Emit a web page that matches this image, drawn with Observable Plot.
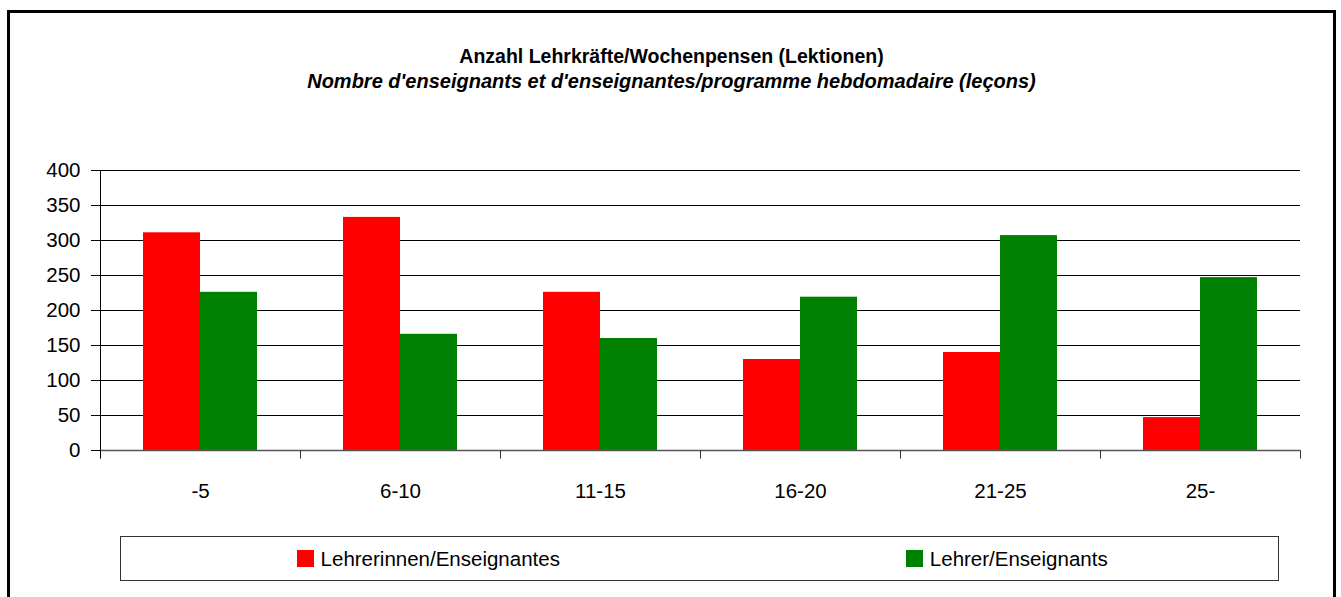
<!DOCTYPE html>
<html>
<head>
<meta charset="utf-8">
<script src="https://cdn.jsdelivr.net/npm/d3@7"></script>
<script src="https://cdn.jsdelivr.net/npm/@observablehq/plot@0.6"></script>
<style>
  html, body { margin: 0; padding: 0; background: #fff; overflow: hidden; }
  #page { position: relative; width: 1341px; height: 597px; overflow: hidden; background: #fff; }
  #frame { position: absolute; left: 7px; top: 10px; width: 1329px; height: 640px; border: 3px solid #000; box-sizing: border-box; }
  .ttl { position: absolute; left: 7px; width: 1329px; text-align: center; font-family: "Liberation Sans", Arial, sans-serif; font-weight: bold; font-size: 19.5px; line-height: 19.5px; color: #000; white-space: nowrap; }
  #title { top: 46.5px; }
  #subtitle { top: 71px; font-style: italic; font-size: 20px; line-height: 20px; }
  #chart { position: absolute; left: 0; top: 150px; }
  #legend { position: absolute; left: 120px; top: 536px; width: 1159px; height: 45px; border: 1px solid #333; box-sizing: border-box; display: grid; grid-template-columns: 1fr 1fr; }
  .item { display: flex; align-items: center; justify-content: center; padding-left: 36px; font-family: "Liberation Sans", Arial, sans-serif; font-size: 20.5px; color: #000; white-space: nowrap; }
  .sw { width: 17px; height: 17px; margin-right: 7px; }
</style>
</head>
<body>
<div id="page">
  <div id="frame"></div>
  <div id="title" class="ttl"></div>
  <div id="subtitle" class="ttl"></div>
  <div id="chart"></div>
  <div id="legend"></div>
</div>
<script>
const titleText = "Anzahl Lehrkräfte/Wochenpensen (Lektionen)";
const subtitleText = "Nombre d'enseignants et d'enseignantes/programme hebdomadaire (leçons)";
const categories = ["-5", "6-10", "11-15", "16-20", "21-25", "25-"];
const series = ["Lehrerinnen/Enseignantes", "Lehrer/Enseignants"];
const women = [311, 333, 226, 130, 140, 47];
const men = [226, 166, 160, 219, 307, 247];
const yTicks = [0, 50, 100, 150, 200, 250, 300, 350, 400];
const colors = ["#ff0000", "#008000"];

document.getElementById("title").textContent = titleText;
document.getElementById("subtitle").textContent = subtitleText;

const data = categories.flatMap((c, i) => [
  {cat: c, series: series[0], value: women[i]},
  {cat: c, series: series[1], value: men[i]}
]);

const plot = Plot.plot({
  width: 1341,
  height: 360,
  marginLeft: 100,
  marginRight: 41,
  marginTop: 20,
  marginBottom: 60,
  style: {fontFamily: "'Liberation Sans', Arial, sans-serif", fontSize: "20.5px", color: "#000", background: "transparent", overflow: "visible"},
  fx: {domain: categories, padding: 0, label: null, tickSize: 0, tickPadding: 33},
  x: {domain: series, paddingInner: 0, paddingOuter: 0.739, axis: null},
  y: {domain: [0, 400], ticks: yTicks, tickSize: 9, tickPadding: 11, label: null, tickFormat: d => String(d)},
  color: {domain: series, range: colors},
  marks: [
    Plot.ruleY(yTicks.filter(d => d > 0), {stroke: "#000", strokeWidth: 1}),
    Plot.barY(data, {fx: "cat", x: "series", y: "value", fill: "series"})
  ]
});

// axis lines and category boundary ticks, placed with the plot's own scales
const fxS = plot.scale("fx"), yS = plot.scale("y");
const edges = categories.map(c => fxS.apply(c)).concat([fxS.apply(categories[categories.length - 1]) + fxS.bandwidth]);
const yBase = yS.apply(0), yTop = yS.apply(400);
const g = d3.select(plot).append("g").attr("transform", "translate(0.5,0.5)").attr("fill", "none");
g.append("line").attr("x1", edges[0]).attr("x2", edges[edges.length - 1]).attr("y1", yBase).attr("y2", yBase).attr("stroke", "#555").attr("stroke-width", 1.3);
g.selectAll(null).data(edges).join("line")
  .attr("x1", d => d).attr("x2", d => d).attr("y1", yBase).attr("y2", yBase + 8)
  .attr("stroke", "#333");
g.append("line").attr("x1", edges[0]).attr("x2", edges[0]).attr("y1", yTop).attr("y2", yBase + 8).attr("stroke", "#000");

document.getElementById("chart").appendChild(plot);

const legend = document.getElementById("legend");
series.forEach((s, i) => {
  const item = document.createElement("div");
  item.className = "item";
  const sw = document.createElement("span");
  sw.className = "sw";
  sw.style.background = colors[i];
  const t = document.createElement("span");
  t.textContent = s;
  item.appendChild(sw);
  item.appendChild(t);
  legend.appendChild(item);
});
</script>
</body>
</html>
